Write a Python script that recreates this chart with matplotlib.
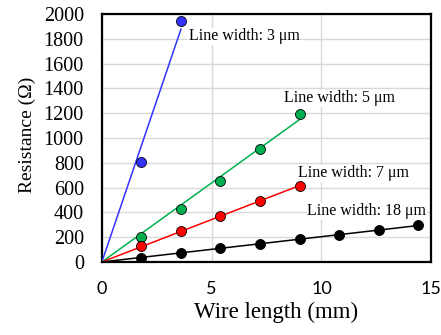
import numpy as np
from matplotlib import pyplot as plt

plt.rcParams["font.family"] = ["Liberation Serif", "DejaVu Serif"]

# wire length (mm) and measured resistance (ohm) per line width
x_3um = [1.8, 3.6]
r_3um = [806, 1944]
x_5um = [1.8, 3.6, 5.4, 7.2, 9.0]
r_5um = [204, 425, 656, 911, 1194]
x_7um = [1.8, 3.6, 5.4, 7.2, 9.0]
r_7um = [129, 247, 374, 492, 613]
x_18um = [1.8, 3.6, 5.4, 7.2, 9.0, 10.8, 12.6, 14.4]
r_18um = [35, 70, 113, 143, 183, 220, 258, 296]

series = [
    (x_3um, r_3um, "#3333ff", "Line width: 3 \u03bcm", (3.95, 1820)),
    (x_5um, r_5um, "#00b050", "Line width: 5 \u03bcm", (8.3, 1320)),
    (x_7um, r_7um, "#ff0000", "Line width: 7 \u03bcm", (8.95, 715)),
    (x_18um, r_18um, "#000000", "Line width: 18 \u03bcm", (9.35, 410)),
]

fig = plt.figure(figsize=(4.41, 3.35), dpi=100)
ax = fig.add_axes([0.231, 0.218, 0.747, 0.740])

for xs, rs, col, lab, pos in series:
    xs = np.array(xs)
    rs = np.array(rs)
    # linear fit through origin
    k = np.sum(xs * rs) / np.sum(xs * xs)
    ax.plot([0, xs.max()], [0, k * xs.max()], color=col, lw=1.1, zorder=3)
    ax.plot(xs, rs, "o", color=col, mec="black", mew=0.6, ms=7.2, zorder=4)
    ax.text(pos[0], pos[1], lab, fontsize=11.5, va="center", ha="left",
            bbox=dict(facecolor="white", edgecolor="none", pad=0.5), zorder=2)

ax.set_xlim(0, 15)
ax.set_ylim(0, 2000)
ax.set_xticks([0, 5, 10, 15])
ax.set_yticks(np.arange(0, 2001, 200))
ax.grid(True, color="#d9d9d9", lw=1.0, zorder=0)
ax.set_axisbelow(True)
ax.tick_params(length=0)
ax.tick_params(axis="x", pad=14, labelsize=13)
ax.tick_params(axis="y", pad=13, labelsize=14.5)
for t in ax.get_xticklabels():
    t.set_fontfamily(["Lato", "DejaVu Sans"])
for s in ax.spines.values():
    s.set_linewidth(1.6)
ax.set_xlabel("Wire length (mm)", fontsize=16.5)
ax.set_ylabel("Resistance (\u03a9)", fontsize=14)
ax.xaxis.set_label_coords(0.529, -0.161)
ax.yaxis.set_label_coords(-0.2, 0.512)

plt.savefig("out.png", dpi=100)
